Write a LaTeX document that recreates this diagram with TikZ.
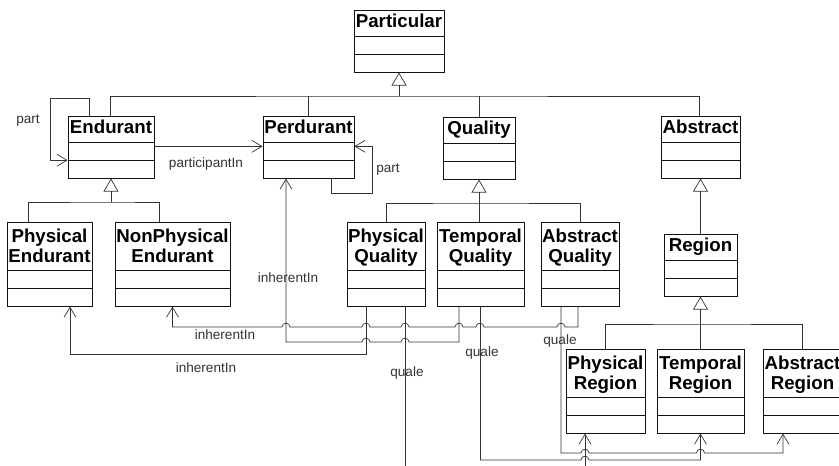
\documentclass[tikz,border=0pt]{standalone}
\usepackage{fontspec}
\setmainfont{Liberation Sans}
\usetikzlibrary{arrows.meta,shapes.multipart}
\definecolor{ink}{HTML}{111111}
\definecolor{wirecol}{HTML}{333333}
\tikzset{
  umlclass/.style={draw=ink,line width=0.9pt,rectangle split,rectangle split parts=3,
                   anchor=north,inner xsep=0.5pt,inner ysep=0pt,align=center,
                   font=\fontsize{18.7}{20}\selectfont\bfseries},
  wire/.style={draw=wirecol,line width=0.7pt},
  assoc/.style={wire,-{Straight Barb[length=10pt,width=12pt]}},
  genarr/.style={wire,-{Triangle[open,length=13pt,width=15pt]}},
  lbl/.style={font=\fontsize{13.6}{15}\selectfont,text=wirecol,inner sep=1pt}
}
\newcommand{\onerow}{\rule[-8pt]{0pt}{25pt}}
\newcommand{\toprow}{\rule{0pt}{20pt}}
\newcommand{\botrow}{\rule[-7pt]{0pt}{7pt}}
\newcommand{\slots}{\nodepart{two}\rule{0pt}{17pt}\nodepart{three}\rule{0pt}{17pt}}

\begin{document}
\begin{tikzpicture}[x=1pt,y=-1pt]
  \useasboundingbox (0,0) rectangle (839,466);

  \node[umlclass,minimum width=90pt] (particular) at (399,10) {\onerow Particular\slots};
  \node[umlclass,minimum width=86pt] (endurant) at (111,116) {\onerow Endurant\slots};
  \node[umlclass,minimum width=91pt] (perdurant) at (308.5,116) {\onerow Perdurant\slots};
  \node[umlclass,minimum width=72pt] (quality) at (479,117) {\onerow Quality\slots};
  \node[umlclass,minimum width=79pt] (abstract) at (700.5,116) {\onerow Abstract\slots};
  \node[umlclass,minimum width=73pt] (region) at (700.5,234) {\onerow Region\slots};
  \node[umlclass,minimum width=85pt] (physend) at (49.5,222) {\toprow Physical\\Endurant\botrow\slots};
  \node[umlclass,minimum width=115pt] (nonphysend) at (172.5,222) {\toprow NonPhysical\\Endurant\botrow\slots};
  \node[umlclass,minimum width=78pt] (physqual) at (386,222) {\toprow Physical\\Quality\botrow\slots};
  \node[umlclass,minimum width=87pt] (tempqual) at (480.5,222) {\toprow Temporal\\Quality\botrow\slots};
  \node[umlclass,minimum width=78pt] (absqual) at (580,222) {\toprow Abstract\\Quality\botrow\slots};
  \node[umlclass,minimum width=79pt] (physreg) at (605.5,349) {\toprow Physical\\Region\botrow\slots};
  \node[umlclass,minimum width=87pt] (tempreg) at (700.5,349) {\toprow Temporal\\Region\botrow\slots};
  \node[umlclass,minimum width=79pt] (absreg) at (802.5,349) {\toprow Abstract\\Region\botrow\slots};

  \coordinate (topbar) at (399,96);
  \draw[genarr] (topbar) -- (particular.south);
  \draw[wire] ([xshift=-1pt]endurant.north) |- (topbar) -| ([xshift=-1.5pt]abstract.north);
  \draw[wire] (perdurant.north) -- (perdurant.north |- topbar);
  \draw[wire] (quality.north) -- (quality.north |- topbar);

  \coordinate (endbar) at (111,202);
  \draw[genarr] (endbar) -- (endurant.south);
  \draw[wire] ([xshift=-21.5pt]physend.north) |- (endbar) -| ([xshift=-13.5pt]nonphysend.north);

  \coordinate (qualbar) at (479,203);
  \draw[genarr] (qualbar) -- (quality.south);
  \draw[wire] (physqual.north) |- (qualbar) -| (absqual.north);
  \draw[wire] ([xshift=-1.5pt]tempqual.north) -- (qualbar);

  \draw[genarr] (region.north) -- (abstract.south);
  \coordinate (regbar) at (700.5,324);
  \draw[genarr] (regbar) -- (region.south);
  \draw[wire] (physreg.north) |- (regbar) -| (absreg.north);
  \draw[wire] (tempreg.north) -- (regbar);

  \draw[assoc] ([xshift=-22pt]endurant.north) |- (50,98) |- (endurant.two split west);
  \draw[assoc] ([yshift=-4pt]endurant.text split east) -- ([yshift=-4pt]perdurant.text split west);
  \draw[assoc] ([xshift=22.5pt]perdurant.south) |- (372,193) |- ([yshift=-4pt]perdurant.text split east);

  \draw[assoc] ([xshift=-20pt]physqual.south) -- (366,354) -| ([xshift=20.5pt]physend.south);
  \draw[assoc] ([xshift=-21.5pt]tempqual.south) -- (459,342)
    -- (409,342) .. controls (409,337) and (401,337) .. (401,342)
    -- (370,342) .. controls (370,337) and (362,337) .. (362,342)
    -| ([xshift=-22.5pt]perdurant.south);
  \draw[assoc] ([xshift=-2pt]absqual.south) -- (578,327)
    -- (565,327) .. controls (565,322) and (557,322) .. (557,327)
    -- (484,327) .. controls (484,322) and (476,322) .. (476,327)
    -- (463,327) .. controls (463,322) and (455,322) .. (455,327)
    -- (409,327) .. controls (409,322) and (401,322) .. (401,327)
    -- (370,327) .. controls (370,322) and (362,322) .. (362,327)
    -- (290,327) .. controls (290,322) and (282,322) .. (282,327)
    -| (nonphysend.south);

  \draw[assoc] ([xshift=19pt]physqual.south) -- (405,490) -| ([xshift=-20.5pt]physreg.south);
  \draw[assoc] (tempqual.south) -- (480.5,460)
    -- (581,460) .. controls (581,455) and (589,455) .. (589,460)
    -| (tempreg.south);
  \draw[assoc] ([xshift=-19pt]absqual.south) -- (561,453)
    -- (581,453) .. controls (581,448) and (589,448) .. (589,453)
    -- (696.5,453) .. controls (696.5,448) and (704.5,448) .. (704.5,453)
    -| ([xshift=-19.5pt]absreg.south);

  \node[lbl] (partA) at (28,121) {part};
  \node[lbl] (participant) at (206,164) {participantIn};
  \node[lbl] (partB) at (388,170) {part};
  \node[lbl] (inherentA) at (288,278) {inherentIn};
  \node[lbl] (inherentB) at (225,335) {inherentIn};
  \node[lbl] (inherentC) at (206,368) {inherentIn};
  \node[lbl] (qualeA) at (407,373) {quale};
  \node[lbl] (qualeB) at (482,353) {quale};
  \node[lbl] (qualeC) at (560,341) {quale};
\end{tikzpicture}
\end{document}
